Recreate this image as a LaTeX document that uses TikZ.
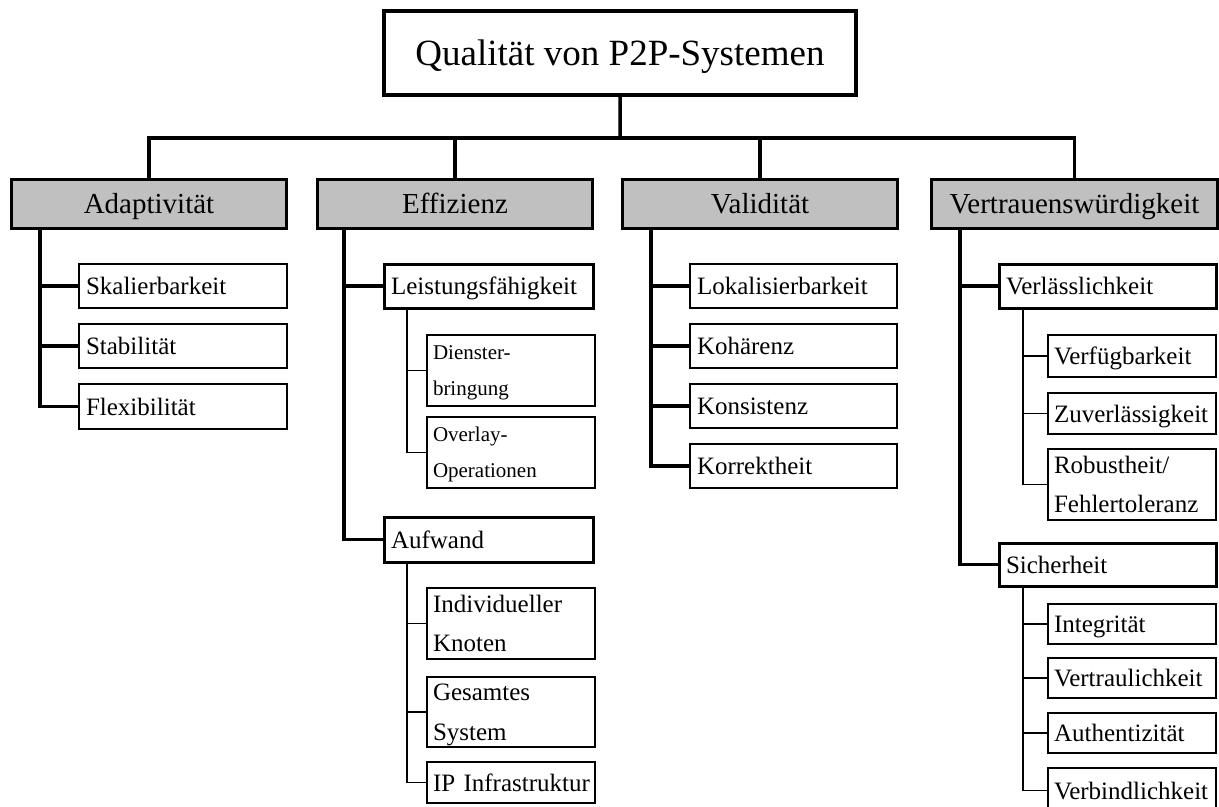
\documentclass[tikz,border=0pt]{standalone}
\usepackage{fontspec}
\setmainfont{Liberation Serif}
\definecolor{kopfgrau}{RGB}{192,192,192}
\begin{document}
\begin{tikzpicture}[x=1bp,y=-1bp,outer sep=0pt,
	wurzel/.style={draw,line width=4bp,anchor=north west,minimum width=472bp,minimum height=84bp,inner sep=0pt,font=\fontsize{37bp}{44bp}\selectfont,text height=25bp,text depth=0pt},
	haupt/.style={draw,fill=kopfgrau,line width=3bp,anchor=north west,minimum height=49bp,inner sep=0pt,font=\fontsize{29bp}{35bp}\selectfont,text height=19.7bp,text depth=0pt},
	unter/.style={draw,line width=2.5bp,anchor=north west,inner xsep=7bp,inner ysep=0pt,align=left,font=\fontsize{25bp}{39.5bp}\selectfont,text height=17bp,text depth=0pt},
	mitte/.style={unter,line width=3bp},
	blatt/.style={unter,line width=2.2bp,inner xsep=6bp,text width=156bp},
	klein/.style={blatt,font=\fontsize{21bp}{36bp}\selectfont,text height=14.3bp,text depth=36bp},
	zweizeilig/.style={text depth=39.5bp},
	balken/.style={line width=3.5bp},
	ast/.style={line width=2.6bp},
	zweig/.style={line width=1.6bp}]
	\useasboundingbox (0,0) rectangle (1219,807);
	\node[wurzel] (qual) at (384,11) {Qualität von P2P-Systemen};
	\node[haupt,minimum width=275bp] (adapt) at (11.5,179.5) {Adaptivität};
	\node[haupt,minimum width=275bp] (effiz) at (317.5,179.5) {Effizienz};
	\node[haupt,minimum width=275bp] (valid) at (622.5,179.5) {Validität};
	\node[haupt,minimum width=286bp] (vertr) at (931.5,179.5) {Vertrauenswürdigkeit};
	\node[unter,text width=194bp,minimum height=44bp] (skal) at (79,264) {Skalierbarkeit};
	\node[unter,text width=194bp,minimum height=44bp] (stab) at (79,324) {Stabilität};
	\node[unter,text width=194bp,minimum height=45bp] (flex) at (79,384) {Flexibilität};
	\node[mitte,text width=195bp,minimum height=44bp] (leist) at (384,264) {Leistungsfähigkeit};
	\node[klein,minimum height=71bp] (dienst) at (427,335) {Dienster-\\bringung};
	\node[klein,minimum height=71bp] (overl) at (427,417) {Overlay-\\Operationen};
	\node[mitte,text width=195bp,minimum height=45bp] (aufw) at (384,517) {Aufwand};
	\node[blatt,zweizeilig,minimum height=71bp] (indiv) at (427,588) {Individueller\\Knoten};
	\node[blatt,zweizeilig,minimum height=70bp] (gesamt) at (427,677) {Gesamtes\\System};
	\node[blatt,minimum height=41bp] (ipinf) at (427,762) {\mbox{IP Infrastruktur}};
	\node[unter,text width=193bp,minimum height=44bp] (lokal) at (690,264) {Lokalisierbarkeit};
	\node[unter,text width=193bp,minimum height=44bp] (kohaer) at (690,324) {Kohärenz};
	\node[unter,text width=193bp,minimum height=44bp] (konsist) at (690,384) {Konsistenz};
	\node[unter,text width=193bp,minimum height=44bp] (korrekt) at (690,444) {Korrektheit};
	\node[mitte,text width=203bp,minimum height=44bp] (verlaess) at (999,264) {Verlässlichkeit};
	\node[blatt,minimum height=42bp] (verfueg) at (1048,335) {Verfügbarkeit};
	\node[blatt,minimum height=41bp] (zuverl) at (1048,393) {Zuverlässigkeit};
	\node[blatt,zweizeilig,minimum height=71bp] (robust) at (1048,449) {Robustheit/\\Fehlertoleranz};
	\node[mitte,text width=203bp,minimum height=43bp] (sicher) at (999,543) {Sicherheit};
	\node[blatt,minimum height=40bp] (integr) at (1048,604) {Integrität};
	\node[blatt,minimum height=40bp] (vertraul) at (1048,658) {Vertraulichkeit};
	\node[blatt,minimum height=40bp] (authent) at (1048,713) {Authentizität};
	\node[blatt,minimum height=45bp] (verbind) at (1048,768) {Verbindlichkeit};
	\coordinate (bus) at (620,138);
	\draw[balken] (qual.south) -- (bus);
	\draw[balken] (adapt.north) |- (bus) -| (vertr.north);
	\draw[balken] (effiz.north) -- (effiz.north |- bus);
	\draw[balken] (valid.north) -- (valid.north |- bus);
	\foreach \k in {skal,stab,flex} \draw[balken] ([xshift=28.5bp]adapt.south west) |- (\k.west);
	\foreach \k in {leist,aufw} \draw[balken] ([xshift=26.5bp]effiz.south west) |- (\k.west);
	\foreach \k in {lokal,kohaer,konsist,korrekt} \draw[balken] ([xshift=28.5bp]valid.south west) |- (\k.west);
	\foreach \k in {verlaess,sicher} \draw[balken] ([xshift=28.5bp]vertr.south west) |- (\k.west);
	\coordinate (la) at ([xshift=23bp]leist.south west);
	\coordinate (aa) at ([xshift=23bp]aufw.south west);
	\coordinate (va) at ([xshift=24bp]verlaess.south west);
	\coordinate (sa) at ([xshift=24bp]sicher.south west);
	\draw[ast] (la) -- (la |- dienst.west);
	\draw[ast] (aa) -- (aa |- indiv.west);
	\draw[ast] (va) -- (va |- verfueg.west);
	\draw[ast] (sa) -- (sa |- integr.west);
	\foreach \k in {dienst,overl} \draw[zweig] (la) |- (\k.west);
	\foreach \k in {indiv,gesamt,ipinf} \draw[zweig] (aa) |- (\k.west);
	\foreach \k in {verfueg,zuverl,robust} \draw[zweig] (va) |- (\k.west);
	\foreach \k in {integr,vertraul,authent,verbind} \draw[zweig] (sa) |- (\k.west);
\end{tikzpicture}
\end{document}
